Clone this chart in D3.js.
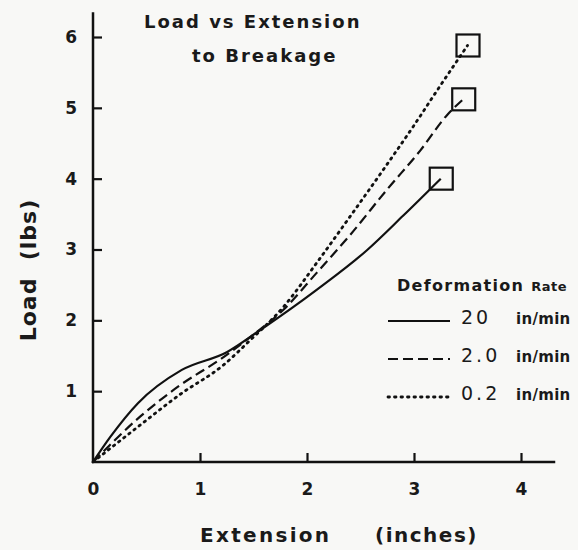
<!DOCTYPE html>
<html>
<head>
<meta charset="utf-8">
<script src="https://cdn.jsdelivr.net/npm/d3@7"></script>
<style>
  html, body { margin: 0; padding: 0; background: #f8f8f6; }
  svg text { font-family: "DejaVu Sans", Verdana, sans-serif; fill: #1a1a1a; }
</style>
</head>
<body>
<script>
// values
const xTicks = [0, 1, 2, 3, 4];
const yTicks = [1, 2, 3, 4, 5, 6];

// 20 in/min
const fastX = [0, 0.16, 0.42, 0.83, 1.25, 1.56, 2.09, 2.56, 2.9, 3.25];
const fastY = [0, 0.35, 0.83, 1.3, 1.55, 1.86, 2.43, 2.99, 3.48, 4.0];

// 2.0 in/min
const midX = [0, 0.44, 0.81, 1.19, 1.5, 1.78, 2.09, 2.4, 2.75, 3.06, 3.31, 3.46];
const midY = [0, 0.64, 1.08, 1.45, 1.8, 2.15, 2.67, 3.2, 3.85, 4.4, 4.9, 5.12];

// 0.2 in/min
const slowX = [0, 0.44, 0.81, 1.22, 1.47, 1.78, 2.09, 2.4, 2.71, 2.99, 3.24, 3.5];
const slowY = [0, 0.52, 0.95, 1.37, 1.72, 2.19, 2.81, 3.46, 4.12, 4.73, 5.3, 5.88];

const rates = ["20", "2.0", "0.2"];
const dashes = [null, "10,5", "1.5,5"];

const width = 578;
const height = 550;

const svg = d3.select("body")
  .append("svg")
  .attr("width", width)
  .attr("height", height);

const x = d3.scaleLinear().domain([0, 4]).range([93, 521]);
const y = d3.scaleLinear().domain([0, 6]).range([462, 37]);

// axis frame runs past the last tick, like the hand drawn original
svg.append("line")
  .attr("x1", x(0)).attr("x2", x(0))
  .attr("y1", y(0) + 1).attr("y2", y(6.35))
  .attr("stroke", "#111").attr("stroke-width", 2.5);
svg.append("line")
  .attr("x1", x(0) - 1).attr("x2", x(4.32))
  .attr("y1", y(0)).attr("y2", y(0))
  .attr("stroke", "#111").attr("stroke-width", 2.5);

const xAxis = svg.append("g")
  .attr("transform", `translate(0,${y(0)})`)
  .call(d3.axisBottom(x).tickValues(xTicks).tickSize(-9).tickPadding(21).tickFormat(d3.format("d")));
xAxis.select(".domain").remove();
xAxis.selectAll(".tick line").attr("stroke", "#111").attr("stroke-width", 2.2);
xAxis.selectAll(".tick").filter(d => d === 0).select("line").remove();
xAxis.selectAll("text").attr("font-size", 17).attr("font-weight", "bold").attr("fill", "#1a1a1a");

const yAxis = svg.append("g")
  .attr("transform", `translate(${x(0)},0)`)
  .call(d3.axisLeft(y).tickValues(yTicks).tickSize(-9).tickPadding(16).tickFormat(d3.format("d")));
yAxis.select(".domain").remove();
yAxis.selectAll(".tick line").attr("stroke", "#111").attr("stroke-width", 2.2);
yAxis.selectAll("text").attr("font-size", 17).attr("font-weight", "bold").attr("fill", "#1a1a1a");

// curves
const line = d3.line()
  .x(d => x(d[0]))
  .y(d => y(d[1]))
  .curve(d3.curveMonotoneX);

const series = [
  d3.zip(fastX, fastY),
  d3.zip(midX, midY),
  d3.zip(slowX, slowY)
];

svg.selectAll(".curve")
  .data(series)
  .enter()
  .append("path")
  .attr("class", "curve")
  .attr("d", line)
  .attr("fill", "none")
  .attr("stroke", "#111")
  .attr("stroke-width", (d, i) => i === 2 ? 2.8 : 2.2)
  .attr("stroke-linecap", (d, i) => i === 2 ? "round" : "butt")
  .attr("stroke-dasharray", (d, i) => dashes[i]);

// breakage squares at the end of each curve
svg.selectAll(".brk")
  .data(series)
  .enter()
  .append("rect")
  .attr("class", "brk")
  .attr("x", d => x(d[d.length - 1][0]) - 11)
  .attr("y", d => y(d[d.length - 1][1]) - 11)
  .attr("width", 23)
  .attr("height", 22)
  .attr("fill", "none")
  .attr("stroke", "#111")
  .attr("stroke-width", 2.2);

// title
svg.append("text")
  .attr("x", 144).attr("y", 28)
  .attr("font-size", 18).attr("font-weight", "bold")
  .attr("letter-spacing", 2)
  .text("Load vs Extension");
svg.append("text")
  .attr("x", 192).attr("y", 62)
  .attr("font-size", 18).attr("font-weight", "bold")
  .attr("letter-spacing", 2)
  .text("to Breakage");

// legend
const legTitle = svg.append("text")
  .attr("x", 397).attr("y", 291)
  .attr("font-size", 16).attr("font-weight", "bold")
  .attr("letter-spacing", 1.3)
  .text("Deformation ");
legTitle.append("tspan")
  .attr("font-size", 13)
  .attr("letter-spacing", 0.5)
  .text("Rate");

const legend = svg.append("g")
  .selectAll("g")
  .data(rates)
  .enter()
  .append("g")
  .attr("transform", (d, i) => `translate(0,${321 + i * 38})`);

legend.append("line")
  .attr("x1", 388).attr("x2", 450)
  .attr("y1", 0).attr("y2", 0)
  .attr("stroke", "#111")
  .attr("stroke-width", (d, i) => i === 2 ? 2.8 : 2.2)
  .attr("stroke-linecap", (d, i) => i === 2 ? "round" : "butt")
  .attr("stroke-dasharray", (d, i) => dashes[i]);

legend.append("text")
  .attr("x", 461).attr("y", 3)
  .attr("font-size", 19)
  .attr("letter-spacing", 3)
  .text(d => d);

legend.append("text")
  .attr("x", 516).attr("y", 3)
  .attr("font-size", 15).attr("font-weight", "bold")
  .attr("letter-spacing", 0.3)
  .text("in/min");

// axis titles
svg.append("text")
  .attr("x", 200).attr("y", 542)
  .attr("font-size", 20).attr("font-weight", "bold")
  .attr("letter-spacing", 2.3)
  .text("Extension");
svg.append("text")
  .attr("x", 375).attr("y", 542)
  .attr("font-size", 20).attr("font-weight", "bold")
  .attr("letter-spacing", 1.5)
  .text("(inches)");

svg.append("text")
  .attr("transform", "translate(36,270) rotate(-90)")
  .attr("text-anchor", "middle")
  .attr("font-size", 22).attr("font-weight", "bold")
  .attr("letter-spacing", 1)
  .attr("xml:space", "preserve")
  .text("Load  (lbs)");
</script>
</body>
</html>
